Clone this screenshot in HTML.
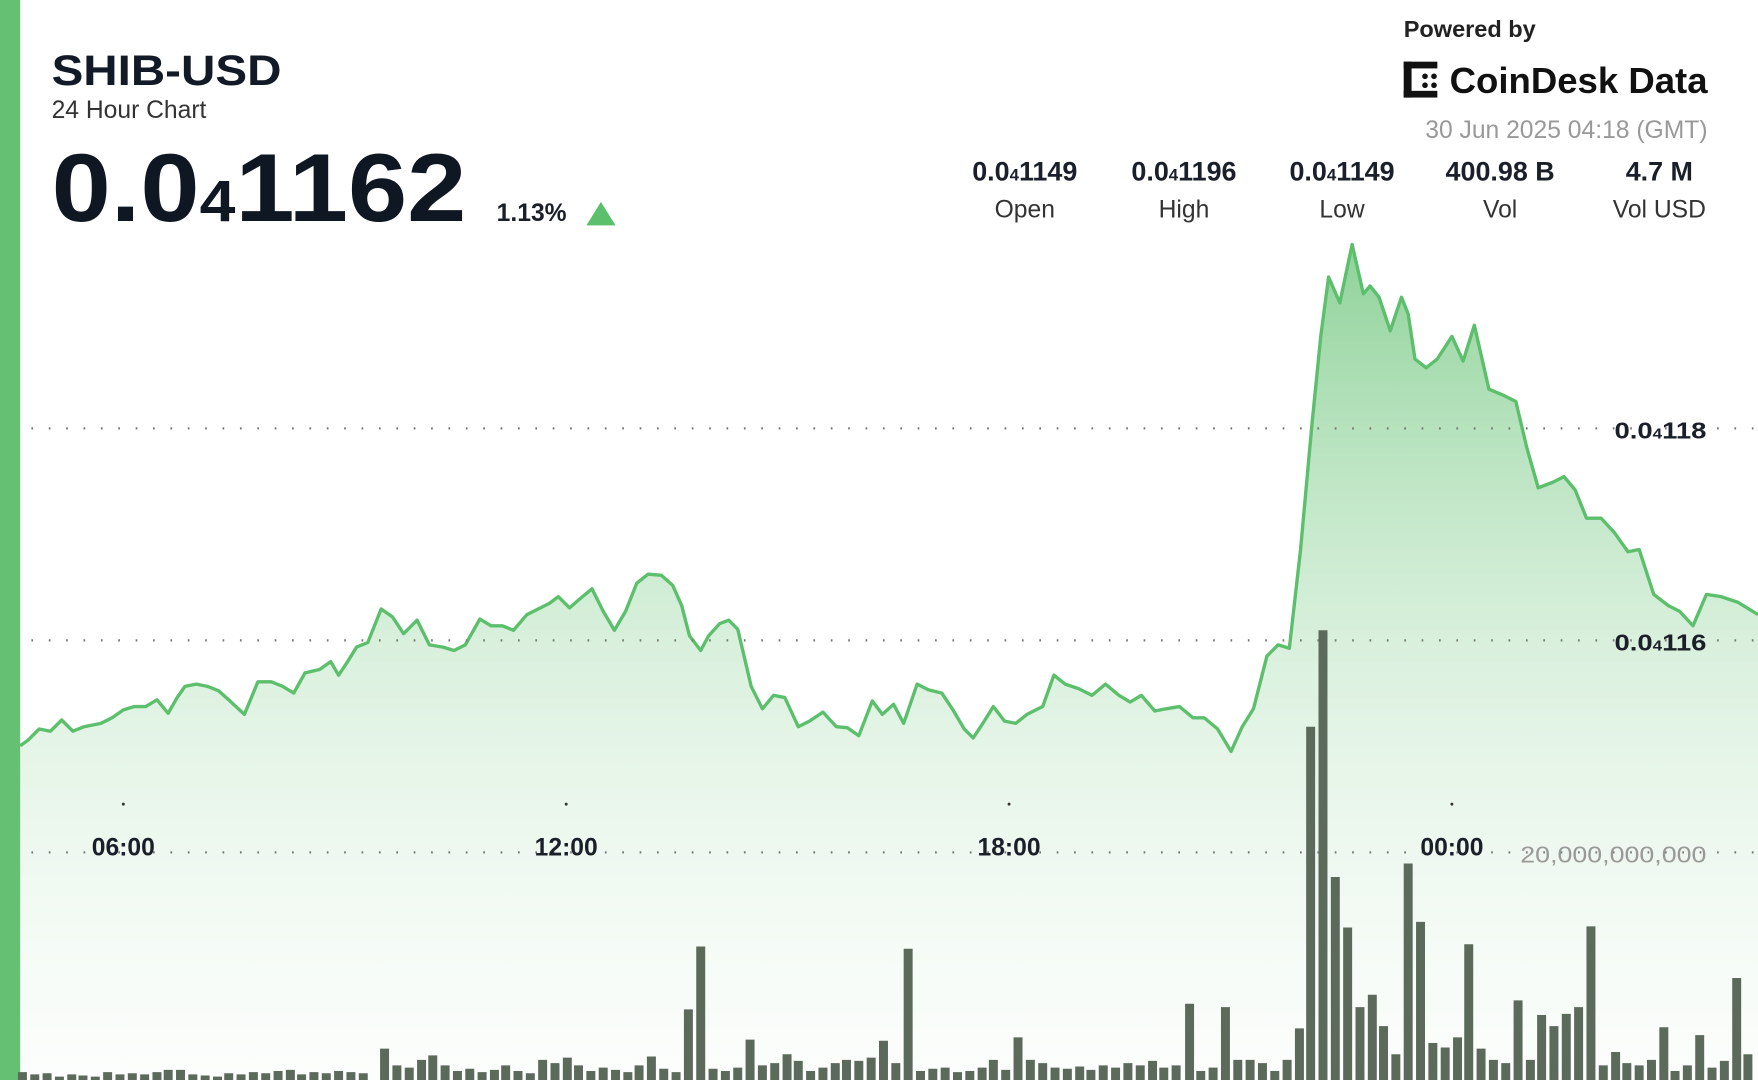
<!DOCTYPE html>
<html><head><meta charset="utf-8"><style>
html,body{margin:0;padding:0;background:#fff;width:1758px;height:1080px;overflow:hidden}
svg{display:block}
text{font-family:"Liberation Sans","DejaVu Sans",sans-serif}
</style></head><body>
<svg width="1758" height="1080" viewBox="0 0 1568 963" preserveAspectRatio="none" xmlns="http://www.w3.org/2000/svg">
<defs>
<linearGradient id="g" gradientUnits="userSpaceOnUse" x1="0" y1="218" x2="0" y2="963">
<stop offset="0" stop-color="#5fbf6e" stop-opacity="0.7"/>
<stop offset="0.5" stop-color="#a6dcae" stop-opacity="0.4"/>
<stop offset="1" stop-color="#e8f6ea" stop-opacity="0.15"/>
</linearGradient>
</defs>
<rect x="0" y="0" width="18" height="963" fill="#66c073"/>
<polygon fill="url(#g)" points="18,963 18,665 25,660 35,650 45,652 55,642 65,652 75,648 90,645 100,640 110,633 120,630 130,630 140,624 150,636 158,622 165,612 175,610 185,612 195,616 205,625 218,637 230,608 242,608 252,612 262,618 272,600 285,597 295,590 302,602 310,590 318,577 328,573 340,543 350,550 360,565 372,553 383,575 395,577 405,580 415,575 428,552 438,558 448,558 458,562 470,548 480,543 490,538 498,532 508,542 516,535 528,525 538,545 548,562 558,545 568,520 578,512 590,513 600,522 608,540 615,567 625,580 632,567 642,556 650,553 658,561 670,612 680,632 690,620 700,622 712,648 722,643 734,635 746,648 756,649 766,656 778,625 787,637 797,628 806,645 818,610 828,615 840,618 850,633 860,650 868,658 876,646 886,630 896,643 906,645 916,637 930,630 940,602 950,610 962,614 974,620 986,610 998,620 1008,626 1018,620 1030,634 1040,632 1052,630 1064,640 1074,640 1086,650 1098,670 1108,648 1118,632 1130,585 1140,575 1150,578 1160,490 1170,380 1178,300 1185,247 1195,270 1206,218 1216,262 1222,255 1230,265 1240,295 1250,265 1256,280 1262,320 1272,328 1282,320 1295,300 1305,322 1315,290 1328,347 1340,352 1352,358 1362,400 1372,435 1385,430 1395,425 1405,437 1415,462 1428,462 1440,475 1452,492 1462,490 1475,530 1488,540 1498,545 1510,558 1522,530 1535,532 1550,537 1568,548 1568,963"/>
<path fill="#5b6a5b" d="M16 963V956h8V963ZM27 963V958h8V963ZM38 963V957h8V963ZM49 963V960h8V963ZM60 963V958h8V963ZM70 963V959h8V963ZM81 963V960h8V963ZM92 963V956h8V963ZM103 963V958h8V963ZM114 963V957h8V963ZM125 963V958h8V963ZM136 963V956h8V963ZM146 963V954h8V963ZM157 963V954h8V963ZM168 963V958h8V963ZM179 963V959h8V963ZM190 963V960h8V963ZM200 963V957h8V963ZM211 963V958h8V963ZM222 963V956h8V963ZM233 963V957h8V963ZM244 963V955h8V963ZM255 963V954h8V963ZM265 963V958h8V963ZM276 963V956h8V963ZM287 963V957h8V963ZM298 963V955h8V963ZM309 963V956h8V963ZM320 963V957h8V963ZM339 963V935h8V963ZM350 963V950h8V963ZM361 963V952h8V963ZM372 963V945h8V963ZM382 963V941h8V963ZM393 963V950h8V963ZM404 963V955h8V963ZM415 963V953h8V963ZM426 963V956h8V963ZM437 963V954h8V963ZM447 963V950h8V963ZM458 963V955h8V963ZM469 963V957h8V963ZM480 963V945h8V963ZM491 963V948h8V963ZM502 963V943h8V963ZM512 963V950h8V963ZM523 963V955h8V963ZM534 963V952h8V963ZM545 963V954h8V963ZM556 963V956h8V963ZM566 963V950h8V963ZM577 963V942h8V963ZM588 963V953h8V963ZM599 963V956h8V963ZM610 963V900h8V963ZM621 963V844h8V963ZM632 963V953h8V963ZM643 963V955h8V963ZM654 963V952h8V963ZM665 963V927h8V963ZM676 963V950h8V963ZM687 963V948h8V963ZM698 963V940h8V963ZM708 963V946h8V963ZM719 963V955h8V963ZM730 963V952h8V963ZM741 963V948h8V963ZM751 963V945h8V963ZM762 963V946h8V963ZM773 963V943h8V963ZM784 963V928h8V963ZM795 963V948h8V963ZM806 963V846h8V963ZM817 963V955h8V963ZM828 963V953h8V963ZM839 963V952h8V963ZM850 963V956h8V963ZM861 963V955h8V963ZM872 963V952h8V963ZM882 963V945h8V963ZM893 963V954h8V963ZM904 963V925h8V963ZM915 963V945h8V963ZM926 963V948h8V963ZM937 963V952h8V963ZM948 963V953h8V963ZM959 963V951h8V963ZM969 963V954h8V963ZM980 963V950h8V963ZM991 963V952h8V963ZM1002 963V948h8V963ZM1013 963V950h8V963ZM1024 963V946h8V963ZM1034 963V952h8V963ZM1045 963V950h8V963ZM1057 963V895h8V963ZM1067 963V955h8V963ZM1078 963V952h8V963ZM1089 963V898h8V963ZM1100 963V945h8V963ZM1111 963V945h8V963ZM1122 963V948h8V963ZM1133 963V955h8V963ZM1144 963V945h8V963ZM1155 963V917h8V963ZM1165 963V648h8V963ZM1176 963V562h8V963ZM1187 963V782h8V963ZM1198 963V827h8V963ZM1209 963V898h8V963ZM1220 963V887h8V963ZM1230 963V915h8V963ZM1241 963V940h8V963ZM1252 963V770h8V963ZM1263 963V822h8V963ZM1274 963V930h8V963ZM1285 963V934h8V963ZM1296 963V925h8V963ZM1306 963V842h8V963ZM1317 963V935h8V963ZM1328 963V945h8V963ZM1339 963V948h8V963ZM1350 963V892h8V963ZM1361 963V945h8V963ZM1371 963V905h8V963ZM1382 963V915h8V963ZM1393 963V904h8V963ZM1404 963V898h8V963ZM1415 963V826h8V963ZM1426 963V950h8V963ZM1437 963V938h8V963ZM1447 963V948h8V963ZM1458 963V950h8V963ZM1469 963V945h8V963ZM1480 963V916h8V963ZM1490 963V955h8V963ZM1501 963V950h8V963ZM1512 963V923h8V963ZM1523 963V952h8V963ZM1534 963V946h8V963ZM1545 963V872h8V963ZM1555 963V940h8V963Z"/>
<polyline fill="none" stroke="#5cbf6c" stroke-width="3" stroke-linejoin="round" points="18,665 25,660 35,650 45,652 55,642 65,652 75,648 90,645 100,640 110,633 120,630 130,630 140,624 150,636 158,622 165,612 175,610 185,612 195,616 205,625 218,637 230,608 242,608 252,612 262,618 272,600 285,597 295,590 302,602 310,590 318,577 328,573 340,543 350,550 360,565 372,553 383,575 395,577 405,580 415,575 428,552 438,558 448,558 458,562 470,548 480,543 490,538 498,532 508,542 516,535 528,525 538,545 548,562 558,545 568,520 578,512 590,513 600,522 608,540 615,567 625,580 632,567 642,556 650,553 658,561 670,612 680,632 690,620 700,622 712,648 722,643 734,635 746,648 756,649 766,656 778,625 787,637 797,628 806,645 818,610 828,615 840,618 850,633 860,650 868,658 876,646 886,630 896,643 906,645 916,637 930,630 940,602 950,610 962,614 974,620 986,610 998,620 1008,626 1018,620 1030,634 1040,632 1052,630 1064,640 1074,640 1086,650 1098,670 1108,648 1118,632 1130,585 1140,575 1150,578 1160,490 1170,380 1178,300 1185,247 1195,270 1206,218 1216,262 1222,255 1230,265 1240,295 1250,265 1256,280 1262,320 1272,328 1282,320 1295,300 1305,322 1315,290 1328,347 1340,352 1352,358 1362,400 1372,435 1385,430 1395,425 1405,437 1415,462 1428,462 1440,475 1452,492 1462,490 1475,530 1488,540 1498,545 1510,558 1522,530 1535,532 1550,537 1568,548"/>
<g stroke="#777" stroke-width="2" stroke-dasharray="1.5 14">
<line x1="28" y1="382" x2="1568" y2="382"/>
<line x1="28" y1="571" x2="1568" y2="571"/>
<line x1="28" y1="760" x2="1568" y2="760"/>
</g>
<g fill="#333"><circle cx="110" cy="717" r="1.3"/><circle cx="505" cy="717" r="1.3"/><circle cx="900" cy="717" r="1.3"/><circle cx="1295" cy="717" r="1.3"/></g>
<g font-size="22" font-weight="bold" fill="#1a1f2a" text-anchor="middle">
<text x="110" y="763">06:00</text><text x="505" y="763">12:00</text><text x="900" y="763">18:00</text><text x="1295" y="763">00:00</text>
</g>
<g font-size="21" font-weight="bold" fill="#1a1f2a">
<text x="1440" y="391" textLength="82" lengthAdjust="spacingAndGlyphs">0.0<tspan font-size="13">4</tspan>118</text>
<text x="1440" y="580" textLength="82" lengthAdjust="spacingAndGlyphs">0.0<tspan font-size="13">4</tspan>116</text>
</g>
<text x="1356" y="769" font-size="21" fill="#999" textLength="166" lengthAdjust="spacingAndGlyphs">20,000,000,000</text>

<text x="46" y="76" font-size="38" font-weight="bold" fill="#111a26" textLength="205" lengthAdjust="spacingAndGlyphs">SHIB-USD</text>
<text x="46" y="105" font-size="22" fill="#333">24 Hour Chart</text>
<text x="46" y="197" font-size="86" font-weight="bold" fill="#0f1722" textLength="370" lengthAdjust="spacingAndGlyphs">0.0<tspan font-size="52">4</tspan>1162</text>
<text x="443" y="197" font-size="22" font-weight="bold" fill="#1a1f2a">1.13%</text>
<polygon points="523,201 549,201 536,180" fill="#5cbf6c"/>

<text x="1252" y="33" font-size="21" font-weight="bold" fill="#222">Powered by</text>
<g fill="#111"><rect x="1252" y="55" width="7" height="32"/><rect x="1252" y="55" width="30" height="6"/><rect x="1252" y="81" width="30" height="6"/><circle cx="1271" cy="68" r="2.5"/><circle cx="1271" cy="76" r="2.5"/><circle cx="1279" cy="68" r="2.5"/><circle cx="1279" cy="76" r="2.5"/></g>
<text x="1293" y="83" font-size="32" font-weight="bold" fill="#111" textLength="230" lengthAdjust="spacingAndGlyphs">CoinDesk Data</text>
<text x="1523" y="123" font-size="22" fill="#999" text-anchor="end">30 Jun 2025 04:18 (GMT)</text>
<g text-anchor="middle" fill="#1a1f2a">
<g font-size="24" font-weight="bold">
<text x="914" y="161">0.0<tspan font-size="15">4</tspan>1149</text>
<text x="1056" y="161">0.0<tspan font-size="15">4</tspan>1196</text>
<text x="1197" y="161">0.0<tspan font-size="15">4</tspan>1149</text>
<text x="1338" y="161">400.98 B</text>
<text x="1480" y="161">4.7 M</text>
</g>
<g font-size="22" fill="#333">
<text x="914" y="194">Open</text><text x="1056" y="194">High</text><text x="1197" y="194">Low</text><text x="1338" y="194">Vol</text><text x="1480" y="194">Vol USD</text>
</g>
</g>
</svg>
</body></html>
